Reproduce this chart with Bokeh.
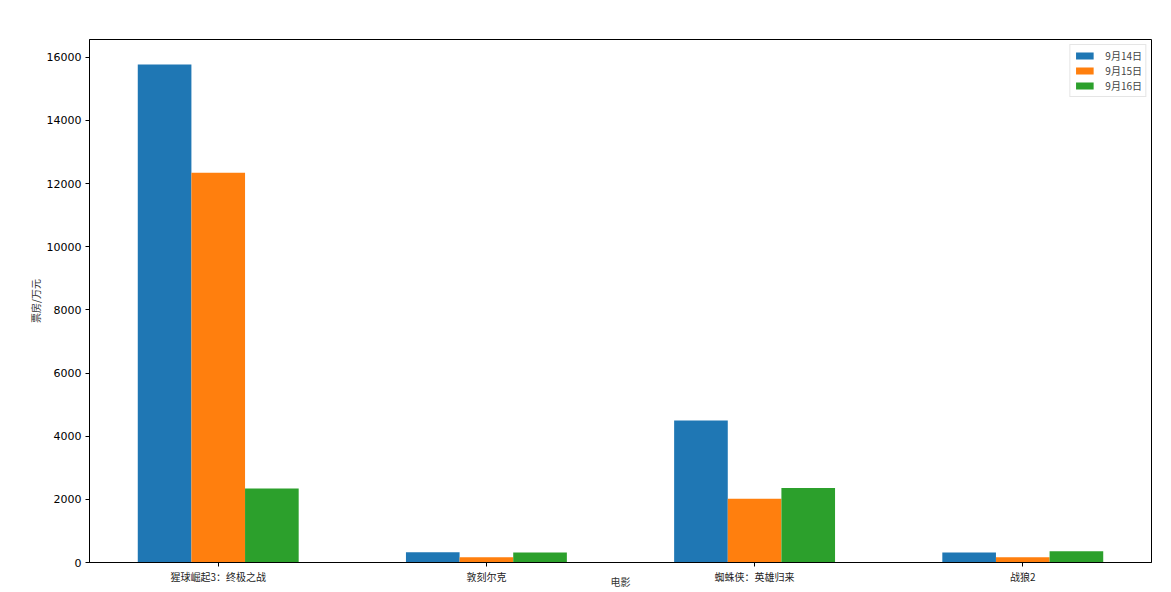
import numpy as np
from bokeh.plotting import figure
from bokeh.models import (ColumnDataSource, Range1d, FixedTicker, Legend, LegendItem)
from bokeh.core.properties import value
from bokeh.embed import file_html
from bokeh.resources import INLINE

movies = ["猩球崛起3：终极之战", "敦刻尔克", "蜘蛛侠：英雄归来", "战狼2"]
dates = ["9月14日", "9月15日", "9月16日"]
box_14 = [15770, 326, 4500, 317]
box_15 = [12340, 168, 2020, 168]
box_16 = [2345, 317, 2355, 358]
colors = ["#1f77b4", "#ff7f0e", "#2ca02c"]
y_ticks = [0, 2000, 4000, 6000, 8000, 10000, 12000, 14000, 16000]

CJK = "Noto Sans CJK SC"

p = figure(width=1163, height=591, output_backend="svg", toolbar_location=None,
           x_range=Range1d(-0.48, 3.48), y_range=Range1d(0, 16560),
           min_border_left=89, min_border_right=12, min_border_top=39, min_border_bottom=22)

idx = np.arange(len(movies))
bar_w = 0.2
series = [box_14, box_15, box_16]
renderers = []
for k, (vals, col) in enumerate(zip(series, colors)):
    src = ColumnDataSource(dict(x=idx + (k - 1) * bar_w, top=vals))
    r = p.vbar(x="x", top="top", width=bar_w, bottom=0, source=src,
               fill_color=col, line_color=None)
    renderers.append(r)

p.xgrid.visible = False
p.ygrid.visible = False
p.outline_line_color = "black"
p.outline_line_alpha = 1
p.outline_line_width = 1

# x axis
p.xaxis.ticker = FixedTicker(ticks=list(idx))
p.xaxis.major_label_overrides = {int(i): m for i, m in zip(idx, movies)}
p.xaxis.minor_tick_line_color = None
p.xaxis.major_tick_out = 4
p.xaxis.major_tick_in = 0
p.xaxis.major_label_standoff = 2
p.xaxis.major_label_text_font = CJK
p.xaxis.major_label_text_font_size = "10px"
p.xaxis.major_label_text_color = "#222222"
p.xaxis.axis_line_color = "black"
p.xaxis.axis_label = "电影"
p.xaxis.axis_label_text_font = CJK
p.xaxis.axis_label_text_font_size = "10px"
p.xaxis.axis_label_text_font_style = "normal"
p.xaxis.axis_label_text_color = "#333333"
p.xaxis.axis_label_standoff = -13

# y axis
p.yaxis.ticker = FixedTicker(ticks=y_ticks)
p.yaxis.minor_tick_line_color = None
p.yaxis.major_tick_out = 4
p.yaxis.major_tick_in = 0
p.yaxis.major_label_standoff = 4
p.yaxis.major_label_text_font = "DejaVu Sans"
p.yaxis.major_label_text_font_size = "11px"
p.yaxis.major_label_text_color = "black"
p.yaxis.axis_label = "票房/万元"
p.yaxis.axis_label_text_font = CJK
p.yaxis.axis_label_text_font_size = "10px"
p.yaxis.axis_label_text_font_style = "normal"
p.yaxis.axis_label_text_color = "#333333"
p.yaxis.axis_label_standoff = 1
p.yaxis.axis_line_color = "black"
p.yaxis.formatter.use_scientific = False

legend = Legend(items=[LegendItem(label=d, renderers=[r]) for d, r in zip(dates, renderers)],
                location="top_right", margin=5, padding=3, spacing=0,
                glyph_width=22, glyph_height=9, label_height=15, label_standoff=10,
                label_text_font=CJK, label_text_font_size="10px",
                border_line_color="#cccccc", border_line_width=1,
                background_fill_alpha=0.8)
p.add_layout(legend)

open("out.html", "w").write(file_html(p, INLINE))
